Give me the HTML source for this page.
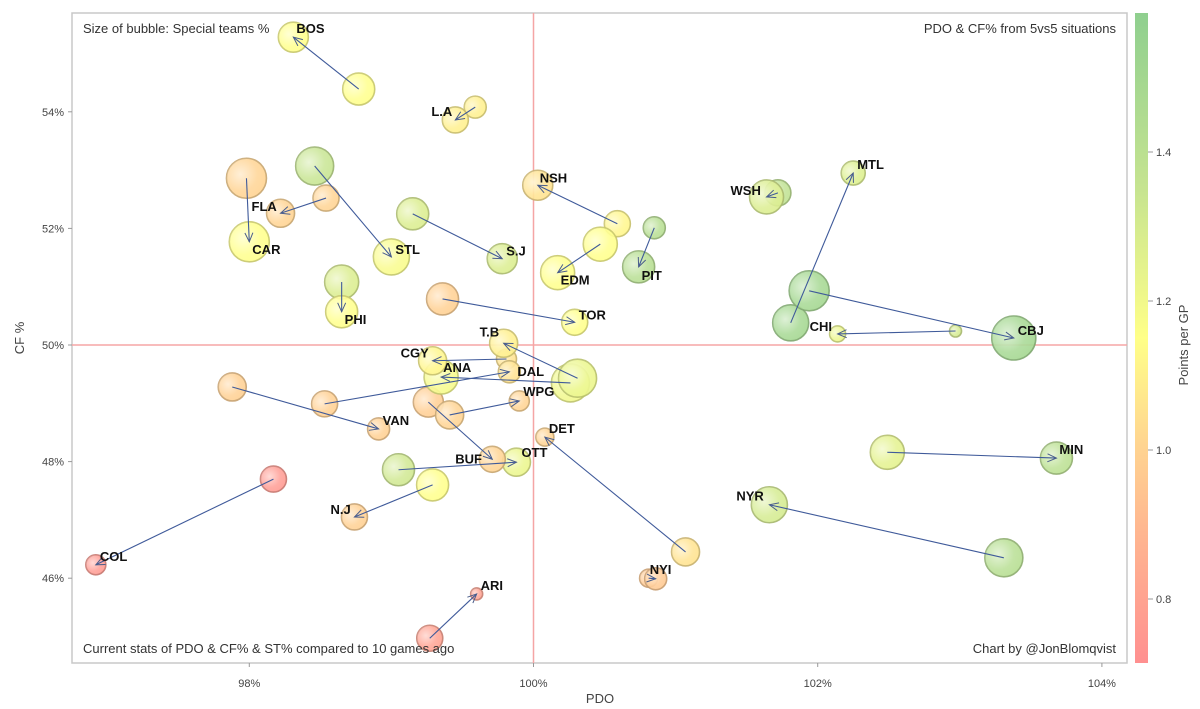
<!DOCTYPE html>
<html><head><meta charset="utf-8">
<style>
html,body{margin:0;padding:0;background:#fff;}
svg{display:block;font-family:"Liberation Sans",Arial,sans-serif;}
</style></head>
<body>
<svg id="chart" width="1200" height="709" viewBox="0 0 1200 709" xmlns="http://www.w3.org/2000/svg">
<defs>
<linearGradient id="cbar" x1="0" y1="1" x2="0" y2="0">
<stop offset="0" stop-color="#ff9090"/>
<stop offset="0.21" stop-color="#ffb890"/>
<stop offset="0.33" stop-color="#ffd390"/>
<stop offset="0.5" stop-color="#ffff88"/>
<stop offset="0.73" stop-color="#c6e490"/>
<stop offset="1" stop-color="#8fcf8f"/>
</linearGradient>
<radialGradient id="shine" cx="0.35" cy="0.4" r="0.7">
<stop offset="0" stop-color="#fff" stop-opacity="0.6"/>
<stop offset="0.6" stop-color="#fff" stop-opacity="0.1"/>
<stop offset="1" stop-color="#fff" stop-opacity="0"/>
</radialGradient>
<marker id="arrow" markerWidth="12" markerHeight="12" refX="10" refY="5" orient="auto" markerUnits="userSpaceOnUse">
<path d="M1,1 L10,5 L1,9" fill="none" stroke="#4a5d8a" stroke-width="1"/>
</marker>
</defs>
<rect x="72" y="13" width="1055" height="650" fill="#fff" stroke="#c8c8c8" stroke-width="1.5"/>
<g id="axes"></g>
<g id="marks"></g>
<text x="83" y="33" font-size="13" fill="#333">Size of bubble: Special teams %</text>
<text x="1116" y="33" font-size="13" fill="#333" text-anchor="end">PDO &amp; CF% from 5vs5 situations</text>
<text x="83" y="653" font-size="13" fill="#333">Current stats of PDO &amp; CF% &amp; ST% compared to 10 games ago</text>
<text x="1116" y="653" font-size="13" fill="#333" text-anchor="end">Chart by @JonBlomqvist</text>
<text x="600" y="703" font-size="13" fill="#444" text-anchor="middle">PDO</text>
<text x="0" y="0" font-size="13" fill="#444" text-anchor="middle" transform="translate(24,338) rotate(-90)">CF %</text>
<rect x="1135" y="13" width="13" height="650" fill="url(#cbar)"/>
<text x="0" y="0" font-size="13" fill="#444" text-anchor="middle" transform="translate(1188,345) rotate(-90)">Points per GP</text>
</svg>
<script>
const teams = ["BOS","L.A","FLA","CAR","STL","PHI","S.J","NSH","EDM","PIT","WSH","MTL","CBJ","CHI","MIN","NYR","DET","NYI","ARI","COL","N.J","OTT","BUF","WPG","VAN","DAL","ANA","CGY","T.B","TOR"];
const pdoNow = [98.31,99.45,98.22,98.00,99.00,98.65,99.78,100.03,100.17,100.74,101.64,102.25,103.38,102.14,103.68,101.66,100.08,100.86,99.60,96.92,98.74,99.88,99.71,99.90,98.91,99.83,99.35,99.29,99.79,100.29];
const cfNow = [55.28,53.86,52.26,51.77,51.51,50.57,51.48,52.74,51.24,51.34,52.54,52.95,50.12,50.19,48.06,47.26,48.42,45.99,45.73,46.23,47.05,47.99,48.04,49.04,48.56,49.54,49.45,49.73,50.03,50.39];
const pdoOld = [98.77,99.59,98.54,97.98,98.46,98.65,99.15,100.59,100.47,100.85,101.72,101.81,101.94,102.97,102.49,103.31,101.07,100.81,99.27,98.17,99.29,99.05,99.26,99.41,97.88,98.53,100.26,99.81,100.31,99.36];
const cfOld = [54.39,54.08,52.52,52.86,53.07,51.08,52.25,52.08,51.73,52.01,52.61,50.38,50.93,50.24,48.16,46.35,46.45,46.00,44.97,47.70,47.60,47.86,49.02,48.80,49.28,48.99,49.35,49.76,49.43,50.79];
const stNow = [99,97,98,104,102,100,99,99,101,100,101,96,106,92,100,102,93,95,90,94,97,98,97,94,95,95,101,98,98,97];
const stOld = [100,95,97,104,103,101,100,97,101,95,97,102,104,90,101,103,98,93,97,97,100,100,99,98,98,97,103,94,103,100];
const ppgNow = [1.15,1.10,1.00,1.15,1.17,1.15,1.28,1.05,1.15,1.42,1.28,1.27,1.50,1.22,1.40,1.30,1.00,0.95,0.78,0.75,0.98,1.22,1.00,1.00,0.98,1.05,1.18,1.12,1.10,1.15];
const ppgOld = [1.15,1.10,1.00,1.00,1.35,1.28,1.28,1.12,1.15,1.42,1.38,1.50,1.50,1.30,1.25,1.42,1.05,0.95,0.78,0.75,1.15,1.32,0.97,1.00,0.98,0.98,1.20,1.05,1.22,0.98];
const xTicks = [98,100,102,104];
const yTicks = [46,48,50,52,54];
const cTicks = [0.8,1.0,1.2,1.4];
// label placement offsets (layout, not data)
const labelDx = [3,-24,-29,3,4,3,4,2,3,3,-36,4,4,-28,3,-33,4,-6,4,4,-24,5,-37,4,4,8,2,-32,-24,4];
const labelDy = [-4,-4,-2,12,-3,12,-3,-3,12,13,-2,-4,-3,-3,-4,-4,-4,-5,-4,-4,-3,-5,4,-5,-4,4,-5,-3,-7,-3];

const NS="http://www.w3.org/2000/svg";
function xs(p){return 533.5+(p-100)*142.1;}
function ys(c){return 345-(c-50)*58.3;}
function rs(st){return Math.max(3,st-84);}
function cy(v){return 599-(v-0.8)*745;}
const stops=[[0.714,[255,144,144]],[0.87,[255,184,144]],[1.0,[255,211,144]],[1.15,[255,255,136]],[1.35,[198,228,144]],[1.586,[143,207,143]]];
function col(v,d){
  let c=stops[stops.length-1][1];
  for(let i=0;i<stops.length-1;i++){const a=stops[i],b=stops[i+1];
    if(v<=a[0]){c=a[1];break;}
    if(v<=b[0]){const t=(v-a[0])/(b[0]-a[0]);c=a[1].map((q,k)=>q+(b[1][k]-q)*t);break;}}
  const f=d||1;
  return "rgb("+c.map(q=>Math.round(q*f)).join(",")+")";
}
function mk(tag,attrs,parent){const e=document.createElementNS(NS,tag);for(const k in attrs)e.setAttribute(k,attrs[k]);parent.appendChild(e);return e;}
const axes=document.getElementById("axes");
const marks=document.getElementById("marks");
const svg=document.getElementById("chart");

let e=mk("line",{x1:xs(100),y1:13,x2:xs(100),y2:663,stroke:"#f5a5a5","stroke-width":1.5},axes);


e=mk("line",{x1:72,y1:ys(50),x2:1127,y2:ys(50),stroke:"#f5a5a5","stroke-width":1.5},axes);


xTicks.forEach(t=>{
  const l=mk("line",{x1:xs(t),y1:663,x2:xs(t),y2:667,stroke:"#999"},axes);
  
  
  const tx=mk("text",{x:xs(t),y:687,"font-size":11,fill:"#444","text-anchor":"middle"},axes);
  tx.textContent=t+"%";
  
  
});
yTicks.forEach(t=>{
  const l=mk("line",{x1:68,y1:ys(t),x2:72,y2:ys(t),stroke:"#999"},axes);
  
  
  const tx=mk("text",{x:64,y:ys(t)+4,"font-size":11,fill:"#444","text-anchor":"end"},axes);
  tx.textContent=t+"%";
  
  
});
cTicks.forEach(t=>{
  const l=mk("line",{x1:1148,y1:cy(t),x2:1153,y2:cy(t),stroke:"#999"},svg);
  
  
  const tx=mk("text",{x:1156,y:cy(t)+4,"font-size":11,fill:"#444"},svg);
  tx.textContent=t.toFixed(1);
  
  
});

function bubble(p,c,st,v,name){
  const g=mk("g",{},marks);
  
  
  const x=xs(p),y=ys(c),r=rs(st);
  mk("circle",{cx:x,cy:y,r:r,fill:col(v),"fill-opacity":0.9,stroke:col(v,0.78),"stroke-opacity":0.9,"stroke-width":1.6},g);
  mk("circle",{cx:x,cy:y,r:r,fill:"url(#shine)"},g);
}
teams.forEach((t,i)=>{bubble(pdoOld[i],cfOld[i],stOld[i],ppgOld[i],"bubble-old-"+t.replace(".","").toLowerCase());});
teams.forEach((t,i)=>{bubble(pdoNow[i],cfNow[i],stNow[i],ppgNow[i],"bubble-now-"+t.replace(".","").toLowerCase());});
teams.forEach((t,i)=>{
  const a=mk("line",{x1:xs(pdoOld[i]),y1:ys(cfOld[i]),x2:xs(pdoNow[i]),y2:ys(cfNow[i]),stroke:"#3f5a9a","stroke-width":1.1,"marker-end":"url(#arrow)"},marks);
  
  
});
teams.forEach((t,i)=>{
  const tx=mk("text",{x:xs(pdoNow[i])+labelDx[i],y:ys(cfNow[i])+labelDy[i],"font-size":13,"font-weight":"bold",fill:"#111"},marks);
  tx.textContent=t;
  
  
});
</script>
</body></html>
